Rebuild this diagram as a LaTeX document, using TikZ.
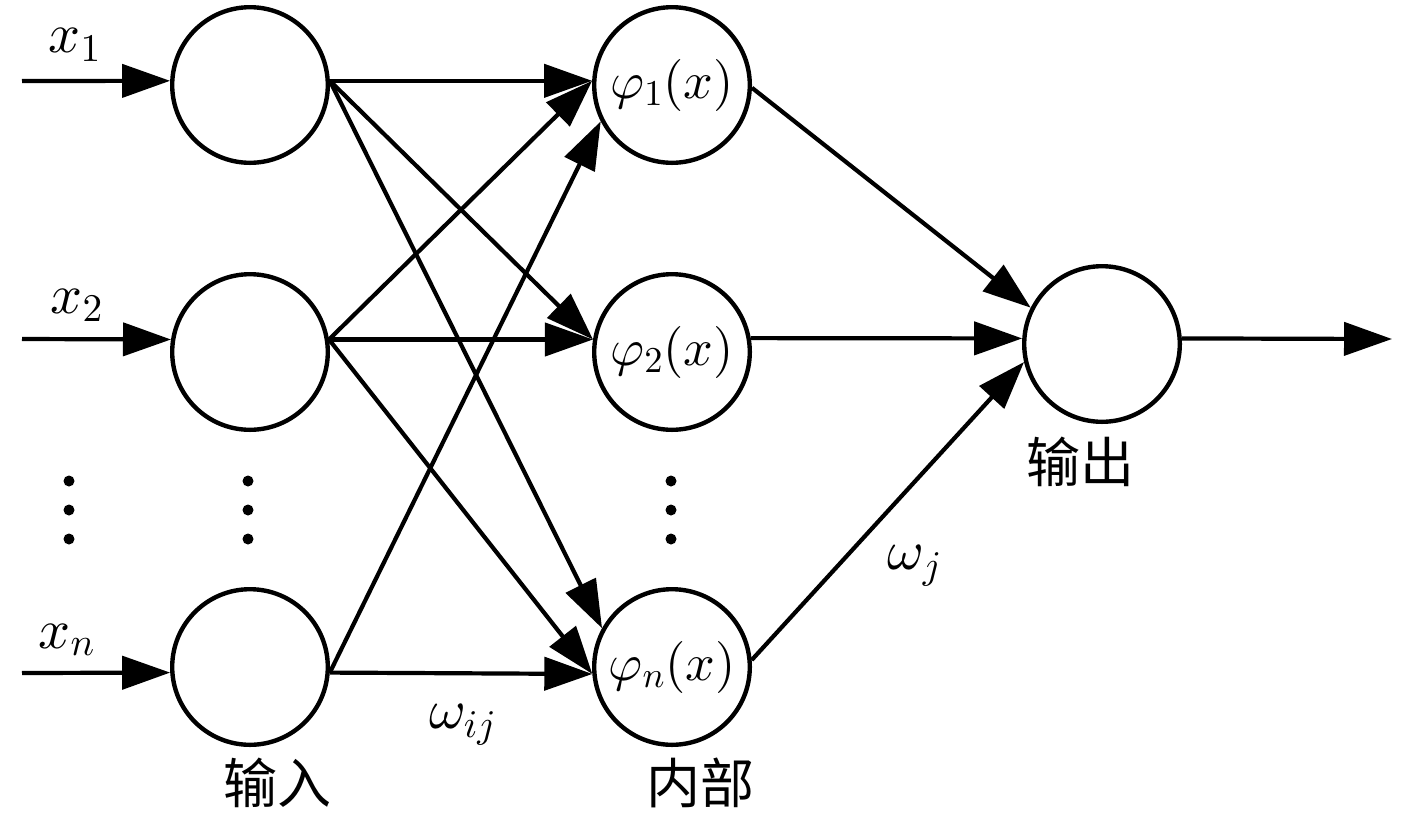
\documentclass[tikz,border=0pt]{standalone}
\usepackage{fontspec}
\DeclareFontShape{OML}{cmm}{m}{it}{<->cmmi10}{}
\DeclareFontShape{OT1}{cmr}{m}{n}{<->cmr10}{}
\newfontfamily\cjk{Noto Sans CJK SC}
\usetikzlibrary{arrows.meta}
\begin{document}
\begin{tikzpicture}[x=0.5pt,y=-0.5pt,
  neuron/.style={circle,draw,line width=2.2pt,minimum size=77.8pt,inner sep=0pt,font=\fontsize{26}{30}\selectfont},
  conn/.style={line width=2.1pt,-{Triangle[length=24pt,width=16.5pt]}},
  lbl/.style={inner sep=0pt,font=\fontsize{28}{32}\selectfont},
  zh/.style={inner sep=0pt,font=\cjk\fontsize{27}{30}\selectfont},
  dotmark/.style={fill=black}]
\useasboundingbox (0,0) rectangle (1417,815);

% input layer
\node[neuron] (in1) at (250,85) {};
\node[neuron] (in2) at (250,352) {};
\node[neuron] (in3) at (250,667) {};
% hidden layer
\node[neuron] (h1) at (672,85) {$\varphi_1(x)$};
\node[neuron] (h2) at (672,352) {$\varphi_2(x)$};
\node[neuron] (h3) at (672,667) {$\varphi_n(x)$};
% output
\node[neuron] (out) at (1102,344) {};

% free ends
\coordinate (s1) at (22,81);
\coordinate (s2) at (22,339);
\coordinate (s3) at (22,673);
\coordinate (e) at (1392,339);

% input arrows
\draw[conn] (s1) -- (in1.177);
\draw[conn] (s2) -- (in2.171);
\draw[conn] (s3) -- (in3.184);

% input -> hidden
\draw[conn] (in1.3) -- (h1.177);
\draw[conn] (in1.3) -- (h2.171);
\draw[conn] (in1.3) -- (h3.151);
\draw[conn] (in2.9) -- (h1.177);
\draw[conn] (in2.9) -- (h2.171);
\draw[conn] (in2.9) -- (h3.185);
\draw[conn] (in3.-4) -- (h1.207);
\draw[conn] (in3.-4) -- (h3.185);

% hidden -> output
\draw[conn] (h1.-2) -- (out.153);
\draw[conn] (h2.10) -- (out.176);
\draw[conn] (h3.5) -- (out.193.5);
\draw[conn] (out.4) -- (e);

% labels
\node[lbl] (lx1) at (75,45) {$x_1$};
\node[lbl] (lx2) at (77,305) {$x_2$};
\node[lbl] (lxn) at (67,640) {$x_n$};
\node[lbl] (wij) at (463,725) {$\omega_{ij}$};
\node[lbl] (wj) at (915,566) {$\omega_j$};
\node[zh] (zin) at (277,783) {输入};
\node[zh] (zmid) at (700,783) {内部};
\node[zh] (zout) at (1080,462) {输出};

% ellipsis dots
\foreach \xx in {69,248,671}{
  \foreach \yy in {481,510,539}{
    \fill[dotmark] (\xx,\yy) circle[radius=2.75pt];
  }
}
\end{tikzpicture}
\end{document}
